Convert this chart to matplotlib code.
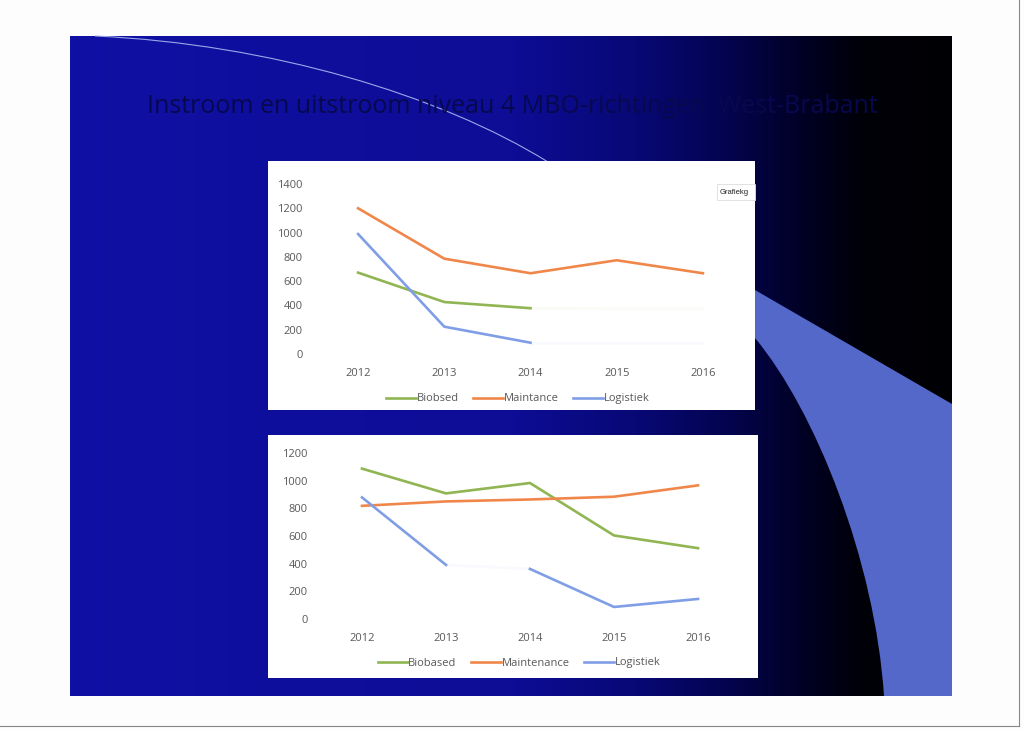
import numpy as np
import matplotlib
matplotlib.use('Agg')
import matplotlib.pyplot as plt
from matplotlib.patches import Rectangle, PathPatch
from matplotlib.path import Path
from matplotlib.colors import LinearSegmentedColormap

plt.rcParams['font.family'] = ['Open Sans', 'DejaVu Sans']

# data
years = [2012, 2013, 2014, 2015, 2016]

# chart 1 (top) - only 2012-2014 drawn solid, rest faded
bio_1 = [670, 428, 377, 372, 372]
maint_1 = [1200, 785, 665, 772, 665]
log_1 = [988, 225, 93, 93, 93]
solid_1 = [True, True, True, False, False]
labels_1 = ['Biobsed', 'Maintance', 'Logistiek']
yticks_1 = [0, 200, 400, 600, 800, 1000, 1200, 1400]

# chart 2 (bottom)
bio_2 = [1087, 908, 983, 604, 512]
maint_2 = [818, 850, 864, 884, 966]
log_2 = [879, 391, 362, 87, 145]
labels_2 = ['Biobased', 'Maintenance', 'Logistiek']
yticks_2 = [0, 200, 400, 600, 800, 1000, 1200]

title = 'Instroom en uitstroom niveau 4 MBO-richtingen, West-Brabant'

green = '#90b552'
orange = '#f0874a'
blue = '#809ee6'
grey = '#595959'

W, H = 1024, 729
fig = plt.figure(figsize=(W / 100, H / 100), dpi=100, facecolor='#fdfdfd')

# background in pixel coords
bg = fig.add_axes([0, 0, 1, 1])
bg.set_xlim(0, W)
bg.set_ylim(H, 0)
bg.axis('off')

# slide gradient blue -> black
cmap = LinearSegmentedColormap.from_list('slide', [
    (0.0, (16/255, 16/255, 164/255)),
    (0.5, (13/255, 13/255, 150/255)),
    (0.64, (8/255, 8/255, 118/255)),
    (0.74, (4/255, 4/255, 82/255)),
    (0.83, (1/255, 1/255, 38/255)),
    (0.9, (0, 0, 8/255)),
    (1.0, (0, 0, 4/255))])
grad = np.linspace(0, 1, 512).reshape(1, -1)
bg.imshow(grad, cmap=cmap, aspect='auto', extent=(70, 952, 696, 36), zorder=0)

# light blue shape on the right
shape = Path([(755, 290), (952, 404), (952, 696), (884, 696),
              (875, 560), (815, 410), (755, 338), (755, 290)],
             [Path.MOVETO, Path.LINETO, Path.LINETO, Path.LINETO,
              Path.CURVE4, Path.CURVE4, Path.CURVE4, Path.CLOSEPOLY])
bg.add_patch(PathPatch(shape, facecolor='#5468ca', edgecolor='none', zorder=1))

# thin arc
arc = Path([(95, 36), (270, 44), (440, 95), (548, 162)],
           [Path.MOVETO, Path.CURVE4, Path.CURVE4, Path.CURVE4])
bg.add_patch(PathPatch(arc, facecolor='none', edgecolor='#9aa8e8', lw=0.8, zorder=1))

# page border lines
bg.plot([1019, 1019], [0, 726], color='#888888', lw=0.8, zorder=1)
bg.plot([0, 1019], [726, 726], color='#888888', lw=0.8, zorder=1)

bg.text(512, 106, title, ha='center', va='center', fontsize=18,
        color='#08084e', zorder=1)

# chart boxes
bg.add_patch(Rectangle((268, 161), 487, 249, facecolor='white', edgecolor='none', zorder=2))
bg.add_patch(Rectangle((268, 435), 490, 243, facecolor='white', edgecolor='none', zorder=2))

# little tooltip box (cut off by the chart edge)
bg.add_patch(Rectangle((717, 184), 38, 16, facecolor='white', edgecolor='#dddddd',
                       lw=0.6, zorder=3))
bg.text(720, 192, 'Grafiekg', ha='left', va='center', fontsize=5.5,
        color='#222222', family=['Liberation Sans', 'DejaVu Sans'], zorder=4)


def make_ax(left, right, y0, ytop, ymax):
    ax = fig.add_axes([left / W, 1 - y0 / H, (right - left) / W, (y0 - ytop) / H])
    ax.patch.set_alpha(0)
    ax.set_xlim(2011.5, 2016.5)
    ax.set_ylim(0, ymax)
    for s in ax.spines.values():
        s.set_visible(False)
    ax.tick_params(length=0, labelsize=8, labelcolor=grey)
    ax.tick_params(axis='y', pad=9)
    ax.tick_params(axis='x', pad=10)
    ax.set_xticks(years)
    return ax


lw = 1.9
leg_kw = dict(loc='center', bbox_transform=fig.transFigure, ncol=3, frameon=False,
              fontsize=8, handlelength=2.7, handletextpad=0.05, columnspacing=1.3,
              labelcolor=grey)

# chart 1
ax1 = make_ax(315, 746, 354, 184, 1400)
ax1.set_yticks(yticks_1)
n_solid = sum(solid_1)
for vals, c, lab in zip([bio_1, maint_1, log_1], [green, orange, blue], labels_1):
    if lab == 'Maintance':
        ax1.plot(years, vals, color=c, lw=lw, label=lab)
    else:
        ax1.plot(years[:n_solid], vals[:n_solid], color=c, lw=lw, label=lab)
        ax1.plot(years[n_solid - 1:], vals[n_solid - 1:], color=c, lw=lw, alpha=0.05)
ax1.legend(bbox_to_anchor=(518 / W, 1 - 399 / H), **leg_kw)

# chart 2
ax2 = make_ax(320, 740, 619, 453, 1200)
ax2.set_yticks(yticks_2)
ax2.plot(years, bio_2, color=green, lw=lw, label=labels_2[0])
ax2.plot(years, maint_2, color=orange, lw=lw, label=labels_2[1])
ax2.plot(years[:2], log_2[:2], color=blue, lw=lw, label=labels_2[2])
ax2.plot(years[1:3], log_2[1:3], color=blue, lw=lw, alpha=0.05)
ax2.plot(years[2:], log_2[2:], color=blue, lw=lw)
ax2.legend(bbox_to_anchor=(519 / W, 1 - 663 / H), **leg_kw)

fig.savefig('out.png', dpi=100, facecolor=fig.get_facecolor())
